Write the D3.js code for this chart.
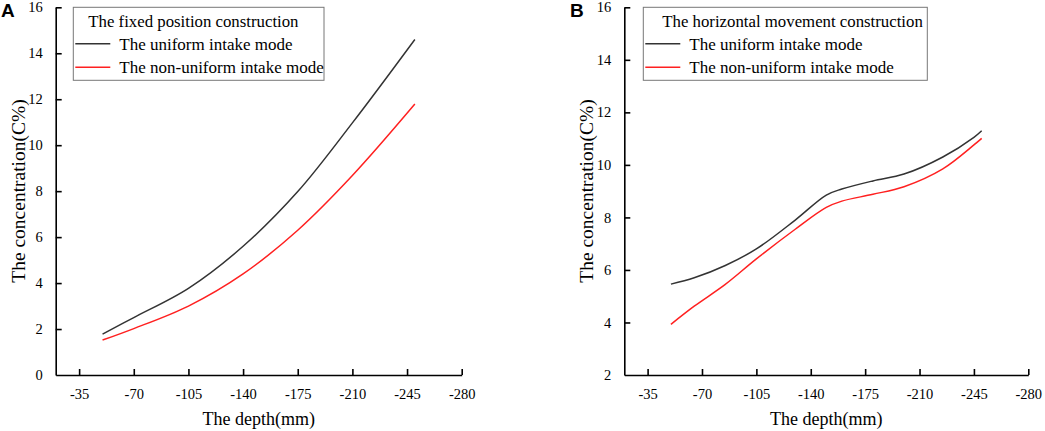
<!DOCTYPE html>
<html>
<head>
  <meta charset="utf-8">
  <title>Concentration vs depth</title>
  <script src="https://d3js.org/d3.v7.min.js"></script>
  <style>
    body { margin: 0; background: #fff; }
    svg { display: block; }
    text { font-family: "Liberation Serif", "Times New Roman", serif; fill: #000; }
  </style>
</head>
<body>
  <div id="chart"></div>
  <script>
    // depth ticks shared by both panels
    var depthTicks = [-35, -70, -105, -140, -175, -210, -245, -280];

    // panel A - the fixed position construction
    var depthA = [-50, -70, -105, -140, -175, -210, -250];
    var uniformA = [1.78, 2.5, 3.77, 5.6, 7.98, 10.97, 14.6];
    var nonUniformA = [1.52, 2.02, 3.0, 4.4, 6.3, 8.68, 11.79];
    var yTicksA = [0, 2, 4, 6, 8, 10, 12, 14, 16];

    // panel B - the horizontal movement construction
    var depthB = [-50, -65, -85, -105, -130, -150, -160, -180, -200, -225, -245, -250];
    var uniformB = [5.46, 5.70, 6.17, 6.80, 7.90, 8.85, 9.08, 9.39, 9.65, 10.3, 11.05, 11.3];
    var nonUniformB = [3.93, 4.62, 5.45, 6.42, 7.55, 8.38, 8.62, 8.88, 9.17, 9.85, 10.76, 11.01];
    var yTicksB = [2, 4, 6, 8, 10, 12, 14, 16];

    var seriesNames = ["The uniform intake mode", "The non-uniform intake mode"];
    var seriesColors = ["#333333", "#ff2020"];

    var serif = "'Liberation Serif', 'Times New Roman', serif";

    var svg = d3.select("#chart").append("svg")
      .attr("width", 1045)
      .attr("height", 431);

    function drawPanel(opt) {
      var g = svg.append("g");

      var x = d3.scaleLinear().domain([-20, -280]).range([opt.left, opt.right]);
      var y = d3.scaleLinear().domain(opt.yDomain).range([375, 7.3]);

      // x axis, ticks pointing inward
      var xAxis = g.append("g")
        .attr("transform", "translate(0,375)")
        .call(d3.axisBottom(x).tickValues(depthTicks).tickFormat(function (d) { return String(d); })
          .tickSizeInner(-6).tickSizeOuter(0).tickPadding(14));
      // y axis
      var yAxis = g.append("g")
        .attr("transform", "translate(" + opt.left + ",0)")
        .call(d3.axisLeft(y).tickValues(opt.yTicks).tickFormat(function (d) { return String(d); })
          .tickSizeInner(-6).tickSizeOuter(0).tickPadding(13));

      [xAxis, yAxis].forEach(function (a) {
        a.attr("font-family", serif).attr("font-size", 14.5);
        a.select(".domain").attr("stroke", "#000").attr("stroke-width", 1.6);
        a.selectAll(".tick line").attr("stroke", "#000").attr("stroke-width", 1.6);
        a.selectAll(".tick text").attr("fill", "#000");
      });
      // no inward tick at the origin of the y axis
      yAxis.selectAll(".tick").filter(function (d) { return d === opt.yDomain[0]; }).select("line").remove();

      // axis titles
      g.append("text")
        .attr("x", (opt.left + opt.right) / 2)
        .attr("y", 425)
        .attr("text-anchor", "middle")
        .style("font-size", "18px")
        .text("The depth(mm)");
      g.append("text")
        .attr("transform", "translate(" + (opt.left - 31) + ",191) rotate(-90)")
        .attr("text-anchor", "middle")
        .style("font-size", "19.5px")
        .text("The concentration(C%)");

      // curves
      var line = d3.line()
        .x(function (d) { return x(d[0]); })
        .y(function (d) { return y(d[1]); })
        .curve(d3.curveCatmullRom.alpha(0.5));

      [opt.uniform, opt.nonUniform].forEach(function (vals, i) {
        g.append("path")
          .datum(opt.depth.map(function (dd, j) { return [dd, vals[j]]; }))
          .attr("fill", "none")
          .attr("stroke", seriesColors[i])
          .attr("stroke-width", 1.5)
          .attr("d", line);
      });

      // legend
      var lg = g.append("g").attr("transform", "translate(" + opt.legendX + ",7.3)");
      lg.append("rect")
        .attr("width", opt.legendW)
        .attr("height", 73)
        .attr("fill", "#fff")
        .attr("stroke", "#777")
        .attr("stroke-width", 1);
      lg.append("text")
        .attr("x", opt.titleX)
        .attr("y", 20)
        .style("font-size", "16.8px")
        .text(opt.title);
      seriesNames.forEach(function (name, i) {
        var yy = 36.5 + i * 23.4;
        lg.append("line")
          .attr("x1", 2).attr("x2", 37)
          .attr("y1", yy).attr("y2", yy)
          .attr("stroke", seriesColors[i])
          .attr("stroke-width", 1.5);
        lg.append("text")
          .attr("x", 46)
          .attr("y", yy + 6)
          .style("font-size", "17px")
          .text(name);
      });

      // panel letter
      g.append("text")
        .attr("x", opt.letterX)
        .attr("y", 17)
        .style("font-family", "'Liberation Sans', Arial, sans-serif")
        .style("font-weight", "bold")
        .style("font-size", "19px")
        .text(opt.letter);
    }

    drawPanel({
      left: 55.7, right: 461.7,
      yDomain: [0, 16], yTicks: yTicksA,
      depth: depthA, uniform: uniformA, nonUniform: nonUniformA,
      legendX: 73.3, legendW: 250.7, titleX: 15,
      title: "The fixed position construction",
      letter: "A", letterX: 1
    });

    drawPanel({
      left: 624.3, right: 1028.3,
      yDomain: [2, 16], yTicks: yTicksB,
      depth: depthB, uniform: uniformB, nonUniform: nonUniformB,
      legendX: 643.3, legendW: 284, titleX: 19,
      title: "The horizontal movement construction",
      letter: "B", letterX: 570
    });
  </script>
</body>
</html>
